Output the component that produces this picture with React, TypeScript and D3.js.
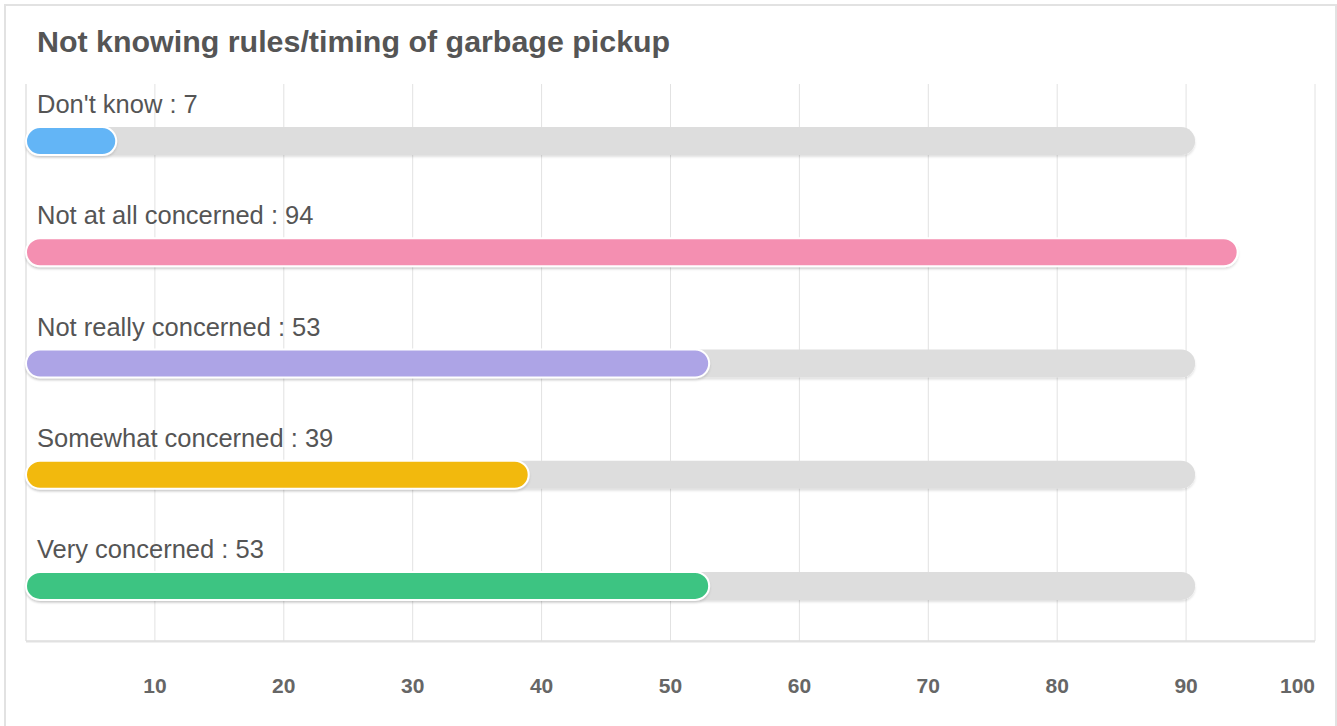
import { scaleBand, scaleLinear } from "d3";

const categories = ["Don't know", "Not at all concerned", "Not really concerned", "Somewhat concerned", "Very concerned"];
const counts = [7, 94, 53, 39, 53];
const barColors = ["#64b5f6", "#f48fb1", "#ada4e6", "#f2b90f", "#3ec482"];
const trackValue = 90.7;
const tickValues = [10, 20, 30, 40, 50, 60, 70, 80, 90, 100];
const title = "Not knowing rules/timing of garbage pickup";

const W = 1337;
const H = 726;

export default function App() {
  const x = scaleLinear().domain([0, 100]).range([26, 1315]);
  const y = scaleBand<string>().domain(categories).range([85.5, 641.5]);
  const plotTop = 84;
  const plotBottom = 641;
  const barH = 28;
  const font = "'Liberation Sans', Arial, Helvetica, sans-serif";
  const last = tickValues[tickValues.length - 1];

  return (
    <svg
      width={W}
      height={H}
      style={{ position: "absolute", left: 0, top: 0, background: "#fff" }}
      fontFamily={font}
    >
      <defs>
        <filter id="barShadow" x="-5%" y="-50%" width="110%" height="200%">
          <feDropShadow dx="0" dy="2" stdDeviation="0.8" floodColor="#000" floodOpacity="0.12" />
        </filter>
      </defs>

      <rect x={5} y={5} width={1331} height={740} fill="#fff" stroke="#e2e2e2" strokeWidth={2} />

      <text x={37} y={52} fontSize={30.4} fontWeight="bold" fill="#555">
        {title}
      </text>

      {tickValues.map((t) => (
        <line key={t} x1={x(t)} x2={x(t)} y1={plotTop} y2={plotBottom} stroke="#e2e2e2" strokeWidth={1} />
      ))}
      <line x1={x(0)} x2={x(0)} y1={plotTop} y2={plotBottom} stroke="#e2e2e2" strokeWidth={1.5} />
      <line x1={x(0)} x2={x(100)} y1={plotBottom + 1} y2={plotBottom + 1} stroke="#f0f0f0" strokeWidth={2} />
      <line x1={x(0)} x2={x(100)} y1={plotBottom} y2={plotBottom} stroke="#dcdcdc" strokeWidth={1.5} />

      {categories.map((c, i) => {
        const cy = (y(c) ?? 0) + y.bandwidth() / 2;
        const top = cy - barH / 2;
        return (
          <g key={c}>
            <text x={37} y={top - 14} fontSize={25.5} fill="#555">
              {`${c} : ${counts[i]}`}
            </text>
            <rect
              x={x(0)}
              y={top}
              width={x(trackValue) - x(0)}
              height={barH}
              rx={barH / 2}
              fill="#dddddd"
              filter="url(#barShadow)"
            />
            <rect
              x={x(0)}
              y={top}
              width={x(counts[i]) - x(0)}
              height={barH}
              rx={barH / 2}
              fill={barColors[i]}
              stroke="#fff"
              strokeWidth={2}
              filter="url(#barShadow)"
            />
          </g>
        );
      })}

      {tickValues.map((t) => (
        <text
          key={t}
          x={x(t)}
          y={693}
          textAnchor={t === last ? "end" : "middle"}
          fontSize={21}
          fontWeight="bold"
          fill="#666"
        >
          {t}
        </text>
      ))}
    </svg>
  );
}
